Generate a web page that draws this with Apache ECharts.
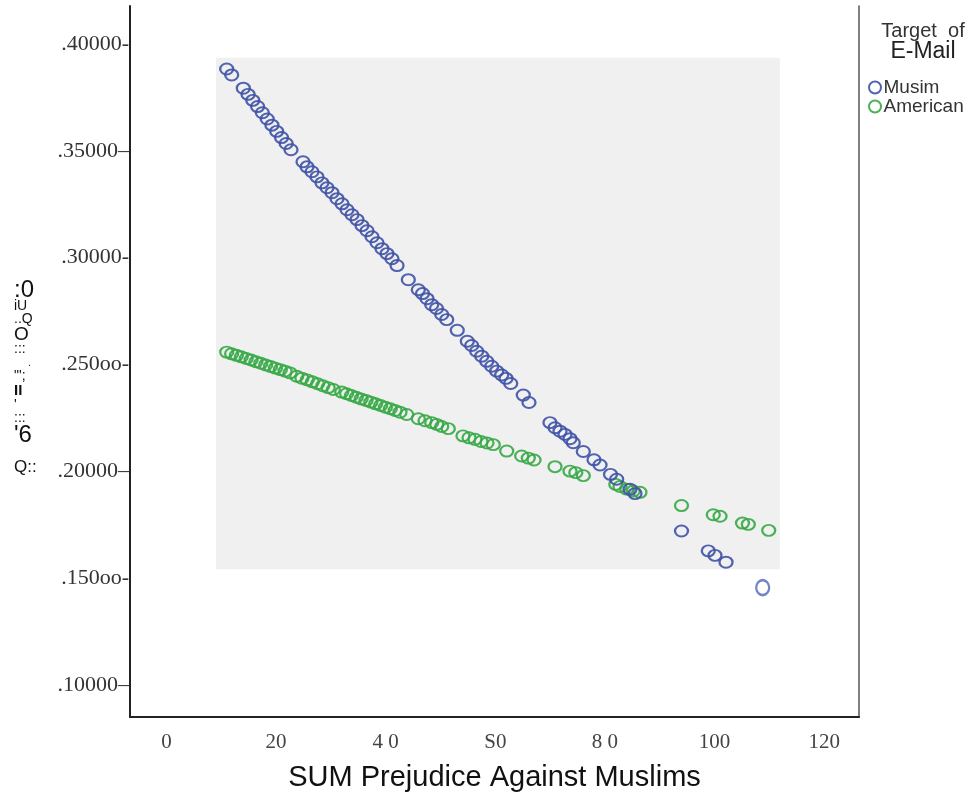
<!DOCTYPE html>
<html>
<head>
<meta charset="utf-8">
<script src="https://cdn.jsdelivr.net/npm/echarts@6/dist/echarts.min.js"></script>
<style>
html,body{margin:0;padding:0;background:#fff;}
#chart{width:976px;height:797px;}
</style>
</head>
<body>
<div id="chart"></div>
<script>
// ---- data ----
const seriesNames = ['Musim', 'American'];
const muslimX = [11.00,11.91,14.03,14.90,15.76,16.64,17.51,18.39,19.25,20.12,21.00,21.85,22.73,
  24.92,25.65,26.56,27.47,28.38,29.30,30.21,31.12,32.04,32.95,33.86,34.77,35.68,36.60,37.51,38.42,39.33,40.24,41.15,42.07,
  44.13,45.95,46.72,47.54,48.40,49.27,50.22,51.13,53.06,54.89,55.69,56.60,57.52,58.43,59.34,60.25,61.16,61.95,62.81,
  65.10,66.14,69.97,70.89,71.80,72.71,73.62,74.22,76.05,78.00,79.10,81.01,82.14,84.57,85.48,93.96,98.85,100.07,102.08,108.77];
const muslimY = [.3883,.3855,.3793,.3764,.3736,.3707,.3678,.3649,.3620,.3591,.3562,.3534,.3505,
  .3449,.3425,.3402,.3378,.3350,.3327,.3304,.3276,.3252,.3224,.3201,.3178,.3150,.3126,.3098,.3070,.3042,.3019,.2995,.2963,
  .2897,.2850,.2832,.2808,.2780,.2762,.2734,.2710,.2660,.2609,.2589,.2562,.2539,.2515,.2492,.2469,.2451,.2435,.2411,
  .2357,.2322,.2228,.2204,.2188,.2173,.2153,.2134,.2093,.2054,.2030,.1986,.1963,.1916,.1896,.1721,.1628,.1607,.1575,.1456];
const americanX = [11.00,11.89,12.77,13.66,14.56,15.45,16.33,17.22,18.11,18.99,19.88,20.78,21.65,22.55,
  23.77,24.72,25.68,26.63,27.58,28.53,29.50,30.45,
  31.98,32.87,33.75,34.64,35.52,36.41,37.30,38.18,39.07,39.95,40.84,41.72,42.61,
  43.83,45.95,47.17,48.40,49.31,50.22,51.42,
  54.10,55.20,56.29,57.39,58.48,59.63,
  62.08,64.81,66.02,67.06,70.89,73.62,74.68,76.05,81.98,82.74,83.97,85.17,86.39,93.96,99.76,100.99,105.09,106.15,109.87];
const americanY = [.2558,.2550,.2543,.2536,.2528,.2521,.2513,.2506,.2498,.2491,.2483,.2476,.2469,.2461,
  .2445,.2436,.2428,.2419,.2410,.2401,.2392,.2383,
  .2371,.2363,.2355,.2347,.2339,.2332,.2324,.2316,.2308,.2300,.2293,.2285,.2277,
  .2266,.2246,.2237,.2228,.2220,.2210,.2200,
  .2166,.2157,.2150,.2140,.2133,.2125,
  .2095,.2072,.2062,.2053,.2022,.2001,.1994,.1980,.1939,.1929,.1917,.1908,.1902,.1840,.1797,.1790,.1758,.1752,.1724];
const xTickValues = [0,20,40,60,80,100,120];
const xTickLabels = ['0','20','4 0','S0','8 0','100','120'];
const yTickValues = [.10,.15,.20,.25,.30,.35,.40];
const yTickLabels = ['.10000\u2013','.150oo-','.20000\u2013','.250oo-','.30000-','.35000\u2013','.40000-'];
const xAxisTitle = 'SUM Prejudice Against Muslims';
const legendTitle1 = 'Target  of';
const legendTitle2 = 'E-Mail';
const panelX = [9.05, 111.9];
const panelY = [.1542, .3935];

// ---- build chart ----
const chart = echarts.init(document.getElementById('chart'), null, {renderer:'canvas'});
const mData = muslimX.map((x,i)=>[x, muslimY[i]]);
const aData = americanX.map((x,i)=>[x, americanY[i]]);
const mItems = mData.map((d,i)=> i===mData.length-1
  ? {value:d, symbolSize:[13,15], itemStyle:{borderColor:'#7384c8', borderWidth:2.4, opacity:1}}
  : {value:d});

const option = {
  backgroundColor:'#ffffff',
  animation:false,
  grid:{left:130, right:117, top:6, bottom:79, containLabel:false},
  title:{
    text:legendTitle1, subtext:legendTitle2,
    left:918, top:16, textAlign:'center', itemGap:0,
    textStyle:{fontFamily:'Liberation Sans', fontSize:20, fontWeight:'normal', color:'#333', lineHeight:21},
    subtextStyle:{fontFamily:'Liberation Sans', fontSize:23, color:'#222', lineHeight:20}
  },
  legend:{
    orient:'vertical', left:863, top:73, itemWidth:17, itemHeight:12, itemGap:0,
    icon:'circle',
    textStyle:{fontFamily:'Liberation Sans', fontSize:19, color:'#333', padding:[0,0,0,-5]},
    data:seriesNames
  },
  xAxis:{
    type:'value', min:-6.64, max:126.34,
    splitLine:{show:false},
    axisLine:{show:true, onZero:false, lineStyle:{color:'#222', width:2}},
    axisTick:{show:false},
    axisLabel:{
      customValues:xTickValues, margin:15,
      fontFamily:'Liberation Serif', fontSize:21, color:'#444',
      formatter:(v)=>{const i=xTickValues.indexOf(v); return i>=0?xTickLabels[i]:'';}
    },
    name:xAxisTitle, nameLocation:'middle', nameGap:46,
    nameTextStyle:{fontFamily:'Liberation Sans', fontSize:29, color:'#111'}
  },
  yAxis:[{
    type:'value', min:0.08506, max:0.41776,
    splitLine:{show:false},
    axisLine:{show:true, onZero:false, lineStyle:{color:'#222', width:2}},
    axisTick:{show:false},
    axisLabel:{
      customValues:yTickValues, margin:1,
      fontFamily:'Liberation Serif', fontSize:22, color:'#333',
      formatter:(v)=>{let i=-1; yTickValues.forEach((t,k)=>{if(Math.abs(t-v)<1e-6) i=k;}); return i>=0?yTickLabels[i]:'';}
    }
  },{
    type:'value', position:'right', min:0.08506, max:0.41776,
    splitLine:{show:false}, axisTick:{show:false}, axisLabel:{show:false},
    axisLine:{show:true, onZero:false, lineStyle:{color:'#555', width:1.5}}
  }],
  graphic:[{
    type:'text', left:14, top:278, silent:true,
    style:{
      text:'{a|:0}\n{b|iU}\n{b|..Q}\n{c|O}\n{b|:::}\n{d|     .}\n{b|"\';}\n{e|II}\n{b|\'}\n{b|:::}\n{a|\'6}\n{f|Q::}',
      align:'center', fill:'#111', fontFamily:'Liberation Sans',
      rich:{
        a:{fontSize:24, lineHeight:20, fontFamily:'Liberation Sans'},
        b:{fontSize:14, lineHeight:13, fontFamily:'Liberation Sans'},
        c:{fontSize:19, lineHeight:17, fontFamily:'Liberation Sans'},
        d:{fontSize:10, lineHeight:14, fontFamily:'Liberation Sans'},
        e:{fontSize:15, lineHeight:16, fontFamily:'Liberation Sans', fontWeight:'bold'},
        f:{fontSize:17, lineHeight:44, fontFamily:'Liberation Sans'}
      }
    }
  }],
  series:[{
    name:seriesNames[0], type:'scatter', data:mItems,
    symbol:'circle', symbolSize:[13,11],
    itemStyle:{color:'rgba(0,0,0,0)', borderColor:'#3f52a6', borderWidth:2.1, opacity:0.9},
    markArea:{
      silent:true, z:-1,
      itemStyle:{color:'#f0f0f0'},
      data:[[{coord:[panelX[0], panelY[1]]},{coord:[panelX[1], panelY[0]]}]]
    },
    z:3
  },{
    name:seriesNames[1], type:'scatter', data:aData,
    symbol:'circle', symbolSize:[13,11],
    itemStyle:{color:'rgba(0,0,0,0)', borderColor:'#36a946', borderWidth:2.1, opacity:0.9},
    z:2
  }]
};
chart.setOption(option);
</script>
</body>
</html>
